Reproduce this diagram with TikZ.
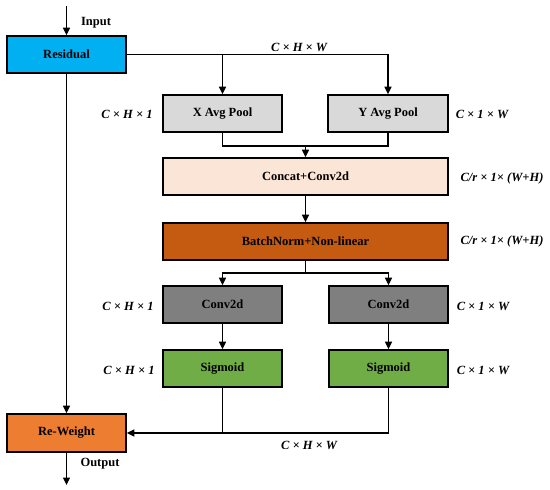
\documentclass[tikz,border=0pt]{standalone}
\usepackage{fontspec}
\setmainfont{Liberation Serif}
\usetikzlibrary{arrows.meta}
\definecolor{cres}{HTML}{00B0F0}
\definecolor{cpool}{HTML}{D9D9D9}
\definecolor{ccat}{HTML}{FBE5D6}
\definecolor{cbn}{HTML}{C55A11}
\definecolor{cconv}{HTML}{7F7F7F}
\definecolor{csig}{HTML}{70AD47}
\definecolor{crw}{HTML}{ED7D31}
\begin{document}
\begin{tikzpicture}[x=1pt,y=-1pt,
  box/.style={draw=black, line width=1.6pt, minimum height=37pt, inner sep=0pt,
    font=\fontsize{12.5}{15}\selectfont\bfseries},
  small/.style={box, minimum width=119pt},
  wide/.style={box, minimum width=285pt},
  conn/.style={line width=1.3pt},
  arr/.style={conn, -{Triangle[length=7.5pt,width=7pt]}},
  dim/.style={inner sep=0pt, font=\fontsize{12.5}{15}\selectfont\bfseries\itshape},
  lab/.style={inner sep=0pt, font=\fontsize{12.5}{15}\selectfont\bfseries}]
\useasboundingbox (0,0) rectangle (550,490);
% nodes
\node[small, fill=cres] (res) at (66.5,54.5) {Residual};
\node[small, fill=cpool] (xp) at (222.5,113.5) {X Avg Pool};
\node[small, fill=cpool, minimum width=120pt] (yp) at (388,113.5) {Y Avg Pool};
\node[wide, fill=ccat] (cc) at (305.5,176.5) {Concat+Conv2d};
\node[wide, fill=cbn] (bn) at (305.5,241.5) {BatchNorm+Non-linear};
\node[small, fill=cconv] (c1) at (222.5,304.5) {Conv2d};
\node[small, fill=cconv] (c2) at (388.5,304.5) {Conv2d};
\node[small, fill=csig] (s1) at (222.5,368.5) {Sigmoid};
\node[small, fill=csig] (s2) at (388.5,368.5) {Sigmoid};
\node[small, fill=crw, minimum height=38pt] (rw) at (66.5,433) {Re-Weight};
% coordinates
\coordinate (in) at (66.5,6);
\coordinate (out) at (66.5,485);
\coordinate (j1) at (305.5,146);
\coordinate (j2) at (305.5,273);
% labels
\node[lab] (tin) at (96,23) {Input};
\node[lab] (tout) at (100,464) {Output};
\node[dim] (d0) at (299,47) {C × H × W};
\node[dim] (d1) at (127,114) {C × H × 1};
\node[dim] (d2) at (482,114) {C × 1 × W};
\node[dim] (d3) at (502,178) {C/r × 1× (W+H)};
\node[dim] (d4) at (502,241.5) {C/r × 1× (W+H)};
\node[dim] (d5) at (128,306) {C × H × 1};
\node[dim] (d6) at (483,306) {C × 1 × W};
\node[dim] (d7) at (129,370) {C × H × 1};
\node[dim] (d8) at (483,370) {C × 1 × W};
\node[dim] (d9) at (309,445) {C × H × W};
% connectors
\draw[arr] (in) -- (res.north);
\draw[arr] (res.east) -| (yp.north);
\draw[arr] (res.east -| xp.north) -- (xp.north);
\draw[conn] (xp.south) |- (j1) -| (yp.south);
\draw[arr] (j1) -- (cc.north);
\draw[arr] (cc.south) -- (bn.north);
\draw[conn] (bn.south) -- (j2);
\draw[arr] (j2) -| (c1.north);
\draw[arr] (j2) -| (c2.north);
\draw[arr] (c1.south) -- (s1.north);
\draw[arr] (c2.south) -- (s2.north);
\draw[arr] (s2.south) |- (rw.east);
\draw[conn] (s1.south) -- (s1.south |- rw.east);
\draw[arr] (res.south) -- (rw.north);
\draw[arr] (rw.south) -- (out);
\end{tikzpicture}
\end{document}
